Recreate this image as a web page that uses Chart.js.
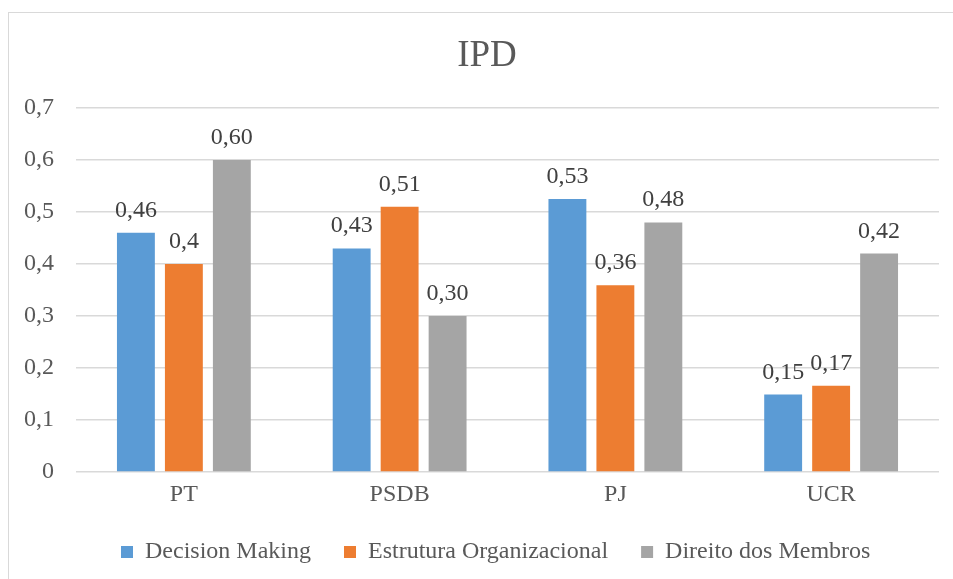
<!DOCTYPE html>
<html>
<head>
<meta charset="utf-8">
<script src="https://cdn.jsdelivr.net/npm/chart.js@4"></script>
<style>
  html, body { margin: 0; padding: 0; background: #fff; overflow: hidden; }
  .frame {
    position: absolute; left: 8px; top: 12px;
    width: 960px; height: 620px;
    border: 1px solid #d9d9d9;
  }
  .wrap { position: absolute; left: 0; top: 0; width: 953px; height: 579px; }
</style>
</head>
<body>
<div class="frame"></div>
<div class="wrap"><canvas id="chart" width="953" height="579"></canvas></div>
<script>
const categories = ['PT', 'PSDB', 'PJ', 'UCR']
const decisionMaking = [0.46, 0.43, 0.525, 0.149]
const estruturaOrganizacional = [0.40, 0.51, 0.359, 0.166]
const direitoMembros = [0.60, 0.30, 0.48, 0.42]
const decisionLabels = ['0,46', '0,43', '0,53', '0,15']
const estruturaLabels = ['0,4', '0,51', '0,36', '0,17']
const direitoLabels = ['0,60', '0,30', '0,48', '0,42']
const yTicks = [0, 0.1, 0.2, 0.3, 0.4, 0.5, 0.6, 0.7]

const serif = '"Liberation Serif", "Times New Roman", serif'

// draws the value text just above each bar
const barLabels = {
  id: 'barLabels',
  afterLayout(chart) {
    // nudge title and legend to where Excel put them
    chart.titleBlock.left = 35
    chart.legend.left = 88
  },
  afterDatasetsDraw(chart) {
    const { ctx } = chart
    ctx.save()
    ctx.font = '24px ' + serif
    ctx.fillStyle = '#404040'
    ctx.textAlign = 'center'
    ctx.textBaseline = 'alphabetic'
    chart.data.datasets.forEach((ds, i) => {
      chart.getDatasetMeta(i).data.forEach((bar, j) => {
        ctx.fillText(ds.labels[j], bar.x, bar.y - 16)
      })
    })
    ctx.restore()
  },
}

const makeDataset = (label, data, labels, color) => ({
  label,
  data,
  labels,
  backgroundColor: color,
  borderWidth: 0,
  categoryPercentage: 0.667,
  barPercentage: 0.79,
})

new Chart(document.getElementById('chart'), {
  type: 'bar',
  data: {
    labels: categories,
    datasets: [
      makeDataset('Decision Making', decisionMaking, decisionLabels, '#5b9bd5'),
      makeDataset('Estrutura Organizacional', estruturaOrganizacional, estruturaLabels, '#ed7d31'),
      makeDataset('Direito dos Membros', direitoMembros, direitoLabels, '#a5a5a5'),
    ],
  },
  options: {
    responsive: false,
    animation: false,
    layout: { padding: { left: 0, right: 14, top: 34, bottom: 5 } },
    plugins: {
      title: {
        display: true,
        text: 'IPD',
        color: '#595959',
        font: { family: serif, size: 37, weight: 'normal' },
        padding: { top: 0, bottom: 29.6 },
      },
      legend: {
        position: 'bottom',
        align: 'start',
        labels: {
          color: '#595959',
          font: { family: serif, size: 24 },
          boxWidth: 12,
          boxHeight: 12,
          padding: 33,
        },
      },
      tooltip: { enabled: false },
    },
    scales: {
      x: {
        grid: { display: false, drawTicks: false },
        border: { display: false },
        ticks: { color: '#595959', font: { family: serif, size: 24 }, padding: 8 },
        afterFit: (scale) => { scale.height = 35 },
      },
      y: {
        min: 0,
        max: 0.7,
        afterBuildTicks: (scale) => { scale.ticks = yTicks.map((v) => ({ value: v })) },
        afterFit: (scale) => { scale.width = 76 },
        grid: { color: '#d9d9d9', lineWidth: 1.5, drawTicks: false },
        border: { display: false },
        ticks: {
          color: '#595959',
          font: { family: serif, size: 24 },
          padding: 22,
          callback: (v) => String(Math.round(v * 10) / 10).replace('.', ','),
        },
      },
    },
  },
  plugins: [barLabels],
})
</script>
</body>
</html>
